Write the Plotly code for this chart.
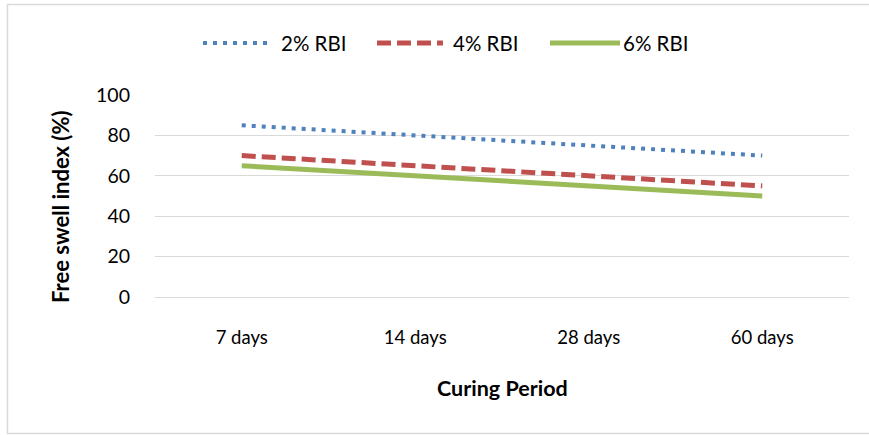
import plotly.graph_objects as go

# Free swell index of RBI-treated soil over curing time
periods = ["7 days", "14 days", "28 days", "60 days"]
rbi_2 = [85, 80, 75, 70]
rbi_4 = [70, 65, 60, 55]
rbi_6 = [65, 60, 55, 50]
series_names = ["2% RBI", "4% RBI", "6% RBI"]
y_ticks = [0, 20, 40, 60, 80, 100]

BLUE = "#4F81BD"
RED = "#C0504D"
GREEN = "#9BBB59"
GRID = "#D9D9D9"
FONT = "Lato"

W, H = 869, 435
L, R, T, B = 155, 20, 95, 138
PW, PH = W - L - R, H - T - B


def px(x):
    return (x - L) / PW


def py(y):
    return (H - B - y) / PH


styles = [
    dict(color=BLUE, width=4, dash="4px,6px"),
    dict(color=RED, width=5, dash="14px,6px"),
    dict(color=GREEN, width=5, dash="solid"),
]

fig = go.Figure()
for name, vals, st in zip(series_names, [rbi_2, rbi_4, rbi_6], styles):
    fig.add_trace(go.Scatter(x=periods, y=vals, name=name, mode="lines",
                             line=st, showlegend=False))

# legend drawn as line samples plus labels
legend_pos = [(203, 272, 279), (377, 443, 451), (550, 620, 621)]
shapes = []
annotations = []
ly = py(43)
for (x0, x1, tx), name, st in zip(legend_pos, series_names, styles):
    shapes.append(dict(type="line", xref="paper", yref="paper",
                       x0=px(x0), x1=px(x1), y0=ly, y1=ly, line=st))
    annotations.append(dict(xref="paper", yref="paper", x=px(tx), y=ly,
                            text=name, showarrow=False, xanchor="left",
                            yanchor="middle",
                            font=dict(family=FONT, size=20.5, color="#000")))

# outer chart frame
shapes.append(dict(type="rect", xref="paper", yref="paper",
                   x0=px(7.5), x1=px(885), y0=py(4.5), y1=py(433.5),
                   line=dict(color=GRID, width=1.5), layer="below"))

# axis titles
annotations.append(dict(xref="paper", yref="paper", x=px(502), y=py(388),
                        text="<b>Curing Period</b>", showarrow=False,
                        xanchor="center", yanchor="middle",
                        font=dict(family=FONT, size=21.5, color="#000")))
annotations.append(dict(xref="paper", yref="paper", x=px(60), y=py(207),
                        text="<b>Free swell index (%)</b>", showarrow=False,
                        textangle=-90, xanchor="center", yanchor="middle",
                        font=dict(family=FONT, size=22, color="#000")))

fig.update_layout(
    width=W, height=H,
    margin=dict(l=L, r=R, t=T, b=B, autoexpand=False),
    plot_bgcolor="white", paper_bgcolor="white",
    shapes=shapes, annotations=annotations,
    xaxis=dict(range=[-0.5, 3.5], showgrid=False, showline=True,
               linecolor=GRID, linewidth=1,
               ticks="", ticklabelstandoff=24, automargin=False,
               tickfont=dict(family=FONT, size=18.5, color="#000"),
               fixedrange=True),
    yaxis=dict(range=[0, 100], tickvals=y_ticks, showgrid=True,
               gridcolor=GRID, gridwidth=1, zeroline=False, showline=False,
               ticks="", ticklabelstandoff=24, automargin=False,
               tickfont=dict(family=FONT, size=19.5, color="#000"),
               fixedrange=True),
)

fig.write_html("out.html")
